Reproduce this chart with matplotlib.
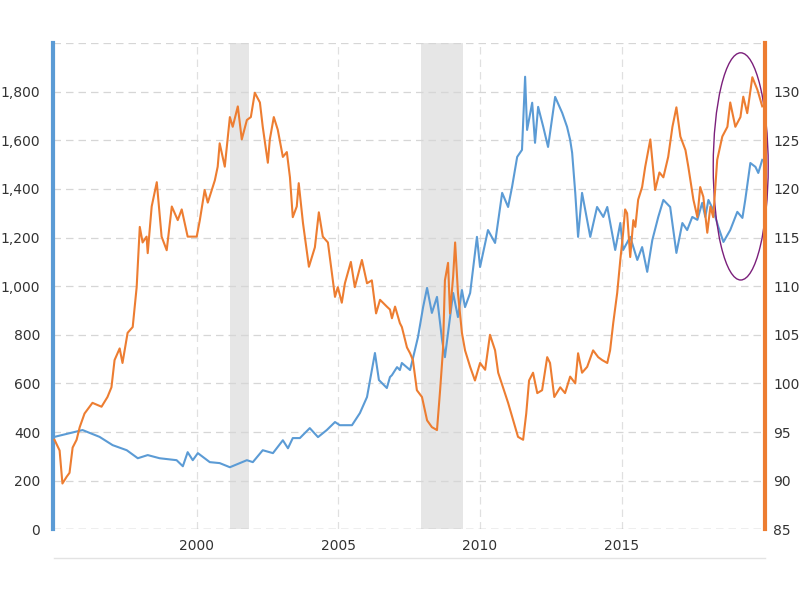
import matplotlib
matplotlib.use("Agg")
import matplotlib.pyplot as plt
from matplotlib.patches import Ellipse
from matplotlib.lines import Line2D
from matplotlib.ticker import FuncFormatter

# gold price (left axis), decimal year -> USD/oz
gold_years = [1994.98, 1995.97, 1996.57, 1997.03, 1997.53, 1997.92, 1998.27, 1998.69,
              1999.29, 1999.51, 1999.68, 1999.86, 2000.04, 2000.46, 2000.81, 2001.17,
              2001.77, 2001.98, 2002.33, 2002.69, 2003.04, 2003.22, 2003.39, 2003.64,
              2003.99, 2004.28, 2004.59, 2004.88, 2005.05, 2005.48, 2005.76, 2006.01,
              2006.29, 2006.43, 2006.71, 2006.82, 2006.89, 2007.07, 2007.17, 2007.24,
              2007.53, 2007.70, 2007.81, 2007.99, 2008.13, 2008.30, 2008.48, 2008.66,
              2008.76, 2009.05, 2009.22, 2009.36, 2009.47, 2009.65, 2009.89, 2010.00,
              2010.28, 2010.53, 2010.78, 2010.99, 2011.13, 2011.31, 2011.48, 2011.59,
              2011.66, 2011.84, 2011.94, 2012.05, 2012.23, 2012.40, 2012.65, 2012.90,
              2013.07, 2013.18, 2013.25, 2013.36, 2013.46, 2013.60, 2013.89, 2014.13,
              2014.35, 2014.49, 2014.77, 2014.95, 2015.05, 2015.30, 2015.55, 2015.72,
              2015.90, 2016.08, 2016.29, 2016.47, 2016.71, 2016.93, 2017.14, 2017.31,
              2017.49, 2017.67, 2017.84, 2017.95, 2018.06, 2018.23, 2018.41, 2018.59,
              2018.83, 2019.08, 2019.26, 2019.36, 2019.54, 2019.72, 2019.82, 2019.96]
gold_price = [380, 408, 380, 346, 325, 292, 305, 292,
              284, 259, 317, 284, 313, 276, 272, 255,
              284, 276, 325, 313, 366, 333, 375, 375,
              416, 379, 408, 441, 428, 428, 478, 544,
              725, 614, 581, 626, 634, 667, 655, 684,
              655, 737, 791, 914, 993, 890, 956, 778,
              708, 972, 873, 984, 914, 972, 1203, 1079,
              1231, 1178, 1384, 1326, 1409, 1532, 1561, 1862,
              1643, 1755, 1590, 1738, 1656, 1573, 1779, 1713,
              1656, 1602, 1549, 1384, 1203, 1384, 1203, 1326,
              1285, 1326, 1149, 1260, 1149, 1203, 1108, 1161,
              1059, 1190, 1285, 1355, 1326, 1137, 1260, 1231,
              1285, 1273, 1343, 1285, 1355, 1314, 1244, 1182,
              1231, 1306, 1281, 1355, 1507, 1491, 1466, 1520]

# trade weighted dollar index (right axis)
usd_years = [1994.98, 1995.16, 1995.26, 1995.41, 1995.51, 1995.62, 1995.76, 1995.87,
             1996.04, 1996.32, 1996.64, 1996.85, 1996.99, 1997.10, 1997.28, 1997.38,
             1997.56, 1997.74, 1997.88, 1997.99, 1998.09, 1998.23, 1998.27, 1998.41,
             1998.59, 1998.76, 1998.94, 1999.12, 1999.33, 1999.47, 1999.68, 2000.00,
             2000.11, 2000.28, 2000.39, 2000.64, 2000.74, 2000.81, 2000.99, 2001.17,
             2001.27, 2001.45, 2001.59, 2001.77, 2001.91, 2002.05, 2002.23, 2002.33,
             2002.51, 2002.58, 2002.72, 2002.86, 2003.04, 2003.18, 2003.29, 2003.39,
             2003.53, 2003.60, 2003.75, 2003.96, 2004.17, 2004.31, 2004.45, 2004.63,
             2004.88, 2004.98, 2005.12, 2005.23, 2005.44, 2005.58, 2005.83, 2006.01,
             2006.18, 2006.33, 2006.47, 2006.71, 2006.82, 2006.89, 2007.00, 2007.17,
             2007.24, 2007.42, 2007.53, 2007.63, 2007.77, 2007.95, 2008.13, 2008.30,
             2008.48, 2008.59, 2008.69, 2008.76, 2008.87, 2008.94, 2009.05, 2009.12,
             2009.22, 2009.36, 2009.47, 2009.65, 2009.82, 2010.00, 2010.18, 2010.35,
             2010.53, 2010.64, 2010.81, 2010.99, 2011.17, 2011.34, 2011.52, 2011.63,
             2011.73, 2011.87, 2012.02, 2012.19, 2012.37, 2012.47, 2012.62, 2012.83,
             2013.00, 2013.18, 2013.36, 2013.46, 2013.60, 2013.78, 2013.99, 2014.17,
             2014.31, 2014.49, 2014.59, 2014.70, 2014.84, 2014.95, 2015.05, 2015.12,
             2015.19, 2015.30, 2015.41, 2015.48, 2015.58, 2015.72, 2015.83, 2016.01,
             2016.18, 2016.33, 2016.47, 2016.64, 2016.79, 2016.93, 2017.07, 2017.25,
             2017.35, 2017.53, 2017.67, 2017.77, 2017.88, 2018.02, 2018.13, 2018.23,
             2018.37, 2018.55, 2018.73, 2018.83, 2019.01, 2019.19, 2019.29, 2019.43,
             2019.61, 2019.79, 2019.96]
usd_index = [94.2, 93.1, 89.7, 90.4, 90.8, 93.4, 94.2, 95.5,
             96.9, 98.0, 97.6, 98.6, 99.6, 102.4, 103.6, 102.1,
             105.2, 105.8, 109.9, 116.1, 114.5, 115.1, 113.4, 118.2,
             120.7, 115.1, 113.7, 118.2, 116.8, 117.9, 115.1, 115.1,
             116.8, 119.9, 118.6, 120.9, 122.3, 124.7, 122.3, 127.4,
             126.4, 128.5, 125.1, 127.1, 127.4, 129.9, 128.9, 126.4,
             122.7, 125.1, 127.4, 126.1, 123.3, 123.8, 121.2, 117.1,
             118.2, 120.6, 116.5, 112.0, 114.0, 117.6, 115.1, 114.5,
             108.9, 109.9, 108.3, 110.3, 112.5, 109.9, 112.7, 110.3,
             110.6, 107.2, 108.6, 107.9, 107.6, 106.7, 107.9, 106.2,
             105.8, 103.7, 103.1, 102.4, 99.3, 98.6, 96.2, 95.5,
             95.2, 99.3, 103.4, 110.6, 112.4, 107.2, 111.0, 114.5,
             109.3, 105.2, 103.4, 101.7, 100.3, 102.1, 101.4, 105.0,
             103.4, 101.1, 99.6, 98.0, 96.2, 94.5, 94.2, 96.9,
             100.3, 101.1, 99.0, 99.3, 102.7, 102.1, 98.6, 99.6,
             99.0, 100.7, 100.0, 103.1, 101.1, 101.7, 103.4, 102.7,
             102.4, 102.1, 103.4, 106.2, 109.3, 112.7, 115.5, 117.9,
             117.5, 113.0, 116.8, 116.1, 118.9, 120.2, 122.3, 125.1,
             119.9, 121.7, 121.2, 123.3, 126.4, 128.4, 125.4, 124.0,
             122.3, 118.9, 117.1, 120.2, 119.2, 115.5, 118.2, 117.1,
             123.0, 125.4, 126.4, 128.9, 126.4, 127.4, 129.5, 127.8,
             131.5, 130.2, 128.5]

recessions = [(2001.17, 2001.83), (2007.9, 2009.4)]
gold_ticks = list(range(0, 2001, 200))
usd_ticks = list(range(85, 136, 5))
year_ticks = [2000, 2005, 2010, 2015]

blue = "#5b9bd5"
orange = "#ed7d31"

fig = plt.figure(figsize=(8, 6), dpi=100)
ax = fig.add_axes([0.066, 0.118, 0.890, 0.810])
ax2 = ax.twinx()

for start, end in recessions:
    ax.axvspan(start, end, color="#e6e6e6", lw=0, zorder=0)

ax.plot(gold_years, gold_price, color=blue, lw=1.5, zorder=3)
ax2.plot(usd_years, usd_index, color=orange, lw=1.5, zorder=3)

ax.set_xlim(1994.92, 2020.05)
ax.set_ylim(0, 2000)
ax2.set_ylim(85, 135)

ax.set_xticks(year_ticks)
ax.set_yticks(gold_ticks)
ax.yaxis.set_major_formatter(FuncFormatter(lambda v, p: "" if v >= 2000 else f"{int(v):,}"))
ax2.set_yticks(usd_ticks)
ax2.yaxis.set_major_formatter(FuncFormatter(lambda v, p: "" if v >= 135 else f"{int(v)}"))

ax.grid(True, axis="y", color="#d6d6d6", ls=(0, (6, 4)), lw=0.9)
ax.grid(True, axis="x", color="#e0e0e0", ls=(0, (6, 4)), lw=0.9)
ax.axhline(0, color="#a6a6a6", ls=(0, (6, 4)), lw=0.9, zorder=1)
ax.set_axisbelow(True)
ax.tick_params(axis="both", length=0, labelsize=10, labelcolor="#333333")
ax.tick_params(axis="y", pad=9)
ax.tick_params(axis="x", pad=7)
ax2.tick_params(axis="y", length=0, labelsize=10, labelcolor="#333333", pad=6)

for a in (ax, ax2):
    for s in ("top", "bottom", "left", "right"):
        a.spines[s].set_visible(False)
ax.spines["left"].set_visible(True)
ax.spines["left"].set_color(blue)
ax.spines["left"].set_linewidth(3)
ax2.spines["right"].set_visible(True)
ax2.spines["right"].set_color(orange)
ax2.spines["right"].set_linewidth(3)

# highlight ring around the latest move
ring = Ellipse((2019.2, 1493), width=1.94, height=935, fill=False,
               edgecolor="#7b1f7b", lw=1.0, clip_on=False, zorder=5)
ax.add_patch(ring)

# thin separator under the date labels
fig.add_artist(Line2D([0.068, 0.956], [0.07, 0.07], color="#e3e3e3", lw=1.0))

fig.savefig("out.png", dpi=100)
